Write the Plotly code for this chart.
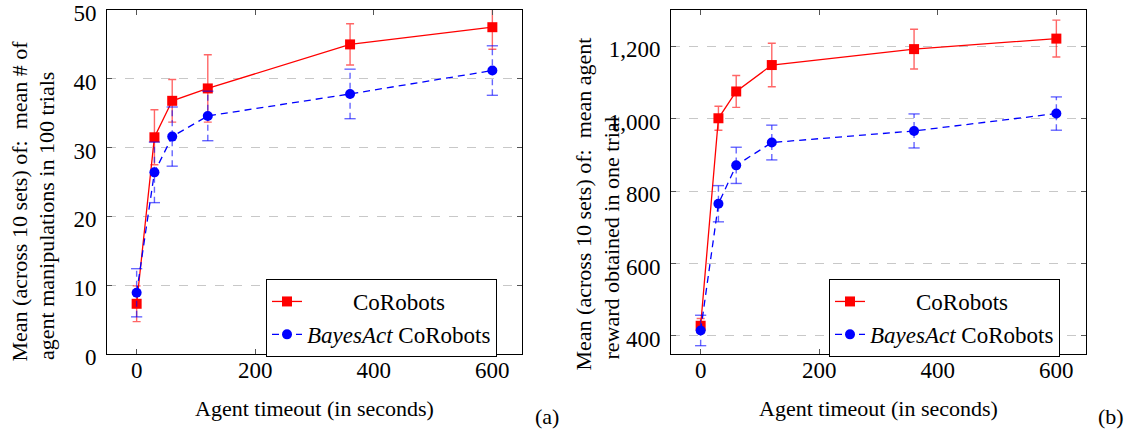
import plotly.graph_objects as go

# ---------------- data ----------------
timeouts = [0, 30, 60, 120, 360, 600]

# (a) mean # of agent manipulations in 100 trials
a_corobots = [7.3, 31.5, 36.8, 38.6, 45.0, 47.5]
a_corobots_err = [2.6, 4.0, 3.1, 4.9, 3.0, 3.2]
a_bayes = [8.9, 26.4, 31.6, 34.6, 37.8, 41.2]
a_bayes_err = [3.5, 4.4, 4.3, 3.6, 3.6, 3.6]

# (b) mean agent reward obtained in one trial
b_corobots = [428, 1001, 1075, 1148, 1192, 1221]
b_corobots_err = [20, 33, 44, 60, 55, 51]
b_bayes = [415, 765, 871, 934, 966, 1014]
b_bayes_err = [42, 50, 50, 48, 47, 46]

x_ticks = [0, 200, 400, 600]
a_yticks = [0, 10, 20, 30, 40, 50]
b_yticks = [400, 600, 800, 1000, 1200]

name_red = "\u00a0" * 8 + "CoRobots"
name_blue = "<i>BayesAct</i> CoRobots"

FONT = "Liberation Serif, Times New Roman, serif"
RED = "#ff0000"
BLUE = "#0000ff"
RED_ERR = "rgba(255,0,0,0.6)"
BLUE_ERR = "rgba(0,0,255,0.6)"

fig = go.Figure()


def add_panel(xa, ya, legend, red, red_err, blue, blue_err):
    fig.add_trace(go.Scatter(
        x=timeouts, y=red, xaxis=xa, yaxis=ya, legend=legend,
        name=name_red, mode="lines+markers",
        line=dict(color=RED, width=1.3),
        marker=dict(symbol="square", size=10, color=RED),
        error_y=dict(type="data", array=red_err, visible=True,
                     color=RED_ERR, thickness=1.4, width=4),
    ))
    # dashed blue error bars
    ex, ey = [], []
    cx, cy = [], []
    for xv, yv, ev in zip(timeouts, blue, blue_err):
        ex += [xv, xv, None]
        ey += [yv - ev, yv + ev, None]
        cx += [xv, xv]
        cy += [yv - ev, yv + ev]
    fig.add_trace(go.Scatter(
        x=ex, y=ey, xaxis=xa, yaxis=ya, mode="lines", showlegend=False,
        line=dict(color=BLUE_ERR, width=1.4, dash="6px,4px"), hoverinfo="skip",
    ))
    fig.add_trace(go.Scatter(
        x=cx, y=cy, xaxis=xa, yaxis=ya, mode="markers", showlegend=False,
        marker=dict(symbol="line-ew", size=8,
                    line=dict(color=BLUE_ERR, width=1.4)), hoverinfo="skip",
    ))
    fig.add_trace(go.Scatter(
        x=timeouts, y=blue, xaxis=xa, yaxis=ya, legend=legend,
        name=name_blue, mode="lines+markers",
        line=dict(color=BLUE, width=1.3, dash="7px,5px"),
        marker=dict(symbol="circle", size=10, color=BLUE),
    ))


add_panel("x", "y", "legend", a_corobots, a_corobots_err, a_bayes, a_bayes_err)
add_panel("x2", "y2", "legend2", b_corobots, b_corobots_err, b_bayes, b_bayes_err)

ax_common = dict(
    showline=True, linecolor="black", linewidth=1, mirror="allticks",
    ticks="inside", ticklen=5, tickcolor="#555", zeroline=False,
    ticklabeloverflow="allow", automargin=False,
    tickfont=dict(family=FONT, size=23, color="black"),
)
y_dom = [1 - 354 / 429, 1 - 10 / 429]

fig.update_layout(
    width=1128, height=429,
    margin=dict(l=0, r=0, t=0, b=0, autoexpand=False),
    paper_bgcolor="white", plot_bgcolor="white",
    font=dict(family=FONT, size=22, color="black"),
    xaxis=dict(domain=[107 / 1128, 522 / 1128], range=[-50, 650],
               tickvals=x_ticks, showgrid=False, anchor="y",
               ticklabelstandoff=-5, **ax_common),
    yaxis=dict(domain=y_dom, range=[0, 50], tickvals=a_yticks,
               showgrid=True, gridcolor="#c8c8c8", griddash="dash",
               anchor="x", ticklabelstandoff=5, ticklabelshift=3, **ax_common),
    xaxis2=dict(domain=[671 / 1128, 1086 / 1128], range=[-50, 650],
                tickvals=x_ticks, showgrid=False, anchor="y2",
                ticklabelstandoff=-5, **ax_common),
    yaxis2=dict(domain=y_dom, range=[350, 1300], tickvals=b_yticks,
                tickformat=",d", showgrid=True, gridcolor="#c8c8c8",
                griddash="dash", anchor="x2", ticklabelstandoff=5,
                ticklabelshift=3, **ax_common),
    legend=dict(x=266 / 1128, y=1 - 279 / 429, xanchor="left", yanchor="top",
                bordercolor="black", borderwidth=1, bgcolor="white",
                font=dict(family=FONT, size=23)),
    legend2=dict(x=829 / 1128, y=1 - 279 / 429, xanchor="left", yanchor="top",
                 bordercolor="black", borderwidth=1, bgcolor="white",
                 font=dict(family=FONT, size=23)),
)

annots = [
    dict(text="Mean (across 10 sets) of:  mean # of", x=19 / 1128, y=1 - 364 / 429,
         textangle=-90, xanchor="center", yanchor="bottom"),
    dict(text="agent manipulations in 100 trials", x=46 / 1128, y=1 - 362 / 429,
         textangle=-90, xanchor="center", yanchor="bottom"),
    dict(text="Mean (across 10 sets) of:  mean agent", x=583 / 1128, y=1 - 373 / 429,
         textangle=-90, xanchor="center", yanchor="bottom"),
    dict(text="reward obtained in one trial", x=611 / 1128, y=1 - 362 / 429,
         textangle=-90, xanchor="center", yanchor="bottom"),
    dict(text="Agent timeout (in seconds)", x=314 / 1128, y=1 - 408 / 429,
         xanchor="center", yanchor="middle"),
    dict(text="Agent timeout (in seconds)", x=878 / 1128, y=1 - 408 / 429,
         xanchor="center", yanchor="middle"),
    dict(text="(a)", x=547 / 1128, y=1 - 416 / 429, xanchor="center", yanchor="middle"),
    dict(text="(b)", x=1111 / 1128, y=1 - 416 / 429, xanchor="center", yanchor="middle"),
]
for a in annots:
    fig.add_annotation(xref="paper", yref="paper", showarrow=False,
                       font=dict(family=FONT, size=22, color="black"), **a)

fig.write_html(
    "out.html",
    config={"displayModeBar": False},
    post_script="document.body.style.margin='0';document.body.style.padding='0';",
)
